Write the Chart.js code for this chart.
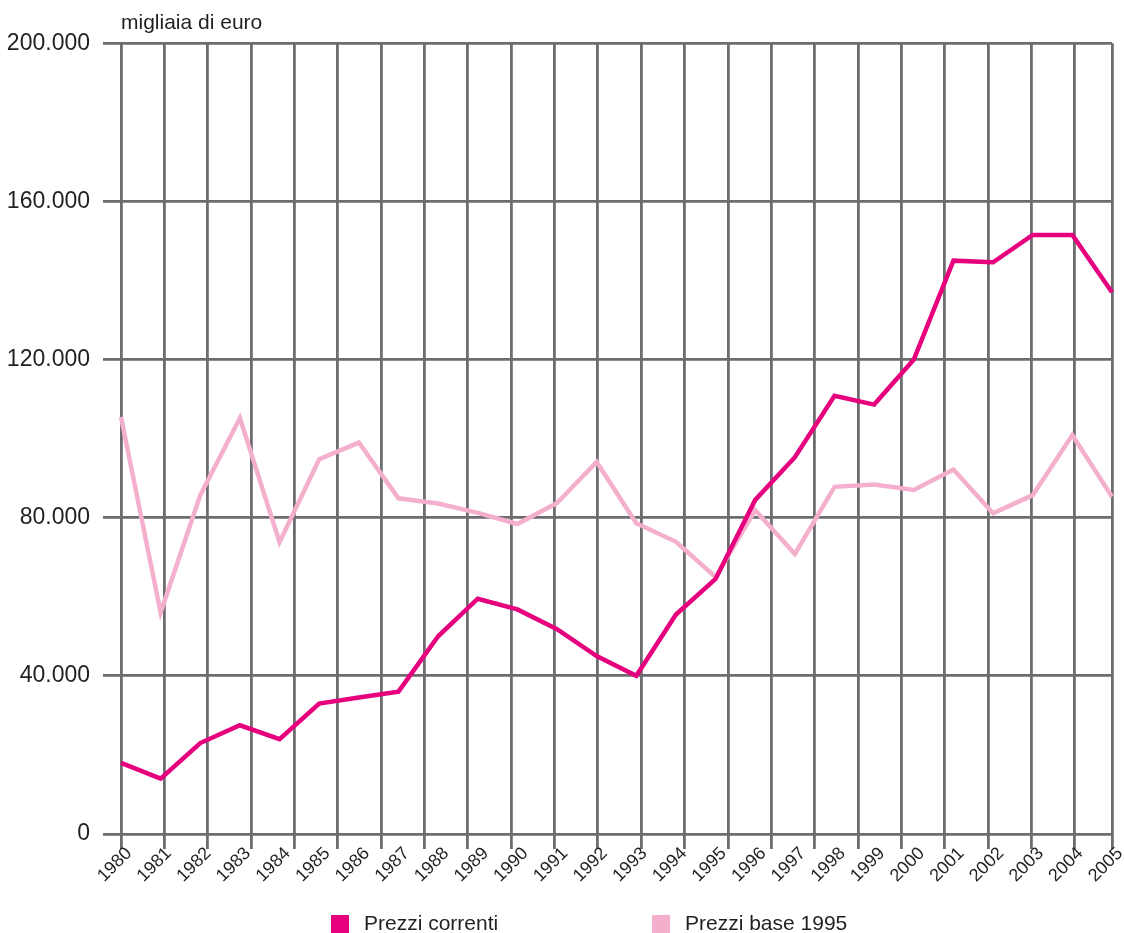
<!DOCTYPE html>
<html lang="it">
<head>
<meta charset="utf-8">
<title>Prezzi correnti e prezzi base 1995</title>
<script src="https://cdn.jsdelivr.net/npm/chart.js@4.4.0/dist/chart.umd.min.js"></script>
<style>
  html, body { margin: 0; padding: 0; background: #fff; }
</style>
</head>
<body>
<canvas id="chart" width="1124" height="933"></canvas>
<script>
// Dati (migliaia di euro)
const anni = ["1980", "1981", "1982", "1983", "1984", "1985", "1986", "1987", "1988", "1989",
  "1990", "1991", "1992", "1993", "1994", "1995", "1996", "1997", "1998", "1999",
  "2000", "2001", "2002", "2003", "2004", "2005"];
const prezziCorrenti = [18000, 14000, 23000, 27500, 24000, 33000, 34500, 36000, 50000, 59500,
  56800, 51800, 45000, 40000, 55500, 64500, 84500, 95300, 110800, 108600,
  120000, 145000, 144600, 151500, 151500, 137000];
const prezziBase1995 = [105500, 56000, 85700, 105200, 73800, 94800, 99000, 84900, 83600, 81200,
  78400, 83700, 94100, 78600, 73900, 65000, 81900, 70800, 87800, 88400,
  87000, 92200, 81100, 85700, 100900, 85300];
const tickY = [0, 40000, 80000, 120000, 160000, 200000];
const unita = "migliaia di euro";

const MAGENTA = "#e6007e";
const ROSA = "#f4afcd";
const GRIGIO = "#6d6d6f";
const TESTO = "#231f20";
const FONT = "'Liberation Sans', Arial, Helvetica, sans-serif";

// numero con il punto come separatore delle migliaia
const formatta = (v) => String(v).replace(/\B(?=(\d{3})+(?!\d))/g, ".");

// le linee verticali della griglia non coincidono con gli anni nell'originale
const celleGriglia = 22;
const fineGriglia = 22.86;

/**
 * Legenda disegnata sotto il grafico, due voci distanziate.
 */
const legendaInBasso = {
  id: "legendaInBasso",
  afterDraw(chart, args, opts) {
    const ctx = chart.ctx;
    ctx.save();
    ctx.font = opts.font;
    ctx.textBaseline = "middle";
    ctx.textAlign = "left";
    chart.data.datasets.forEach((ds, i) => {
      const x = opts.x[i];
      ctx.fillStyle = ds.borderColor;
      ctx.fillRect(x, opts.y - 9, 18, 18);
      ctx.fillStyle = TESTO;
      ctx.fillText(ds.label, x + 33, opts.y);
    });
    ctx.restore();
  },
};

const ctx = document.getElementById("chart").getContext("2d");
const chart = new Chart(ctx, {
  type: "line",
  data: {
    labels: anni,
    datasets: [
      {
        label: "Prezzi correnti",
        data: prezziCorrenti,
        xAxisID: "x",
        yAxisID: "y",
        borderColor: MAGENTA,
        backgroundColor: MAGENTA,
        borderWidth: 4.5,
        pointRadius: 0,
        tension: 0,
        fill: false,
        borderJoinStyle: "miter",
      },
      {
        label: "Prezzi base 1995",
        data: prezziBase1995,
        xAxisID: "x",
        yAxisID: "y",
        borderColor: ROSA,
        backgroundColor: ROSA,
        borderWidth: 4.5,
        pointRadius: 0,
        tension: 0,
        fill: false,
        borderJoinStyle: "miter",
      },
    ],
  },
  options: {
    responsive: false,
    animation: false,
    layout: { padding: { left: 0, right: 12, top: 0, bottom: 0 } },
    plugins: {
      legend: { display: false },
      tooltip: { enabled: false },
      title: {
        display: true,
        text: unita,
        align: "start",
        fullSize: false,
        color: TESTO,
        font: { family: FONT, size: 21, weight: "normal" },
        padding: { top: 11, bottom: 7 },
      },
      legendaInBasso: {
        x: [331, 652],
        y: 924,
        font: "21px " + FONT,
      },
    },
    scales: {
      x: {
        type: "category",
        position: "bottom",
        weight: 1,
        afterFit: (scale) => {
          scale.height = 99;
          scale.paddingLeft = 0;
          scale.paddingRight = 0;
        },
        grid: { display: false, drawTicks: false },
        border: { display: false },
        ticks: {
          autoSkip: false,
          maxRotation: 45,
          minRotation: 45,
          padding: 9,
          labelOffset: 8,
          color: TESTO,
          font: { family: FONT, size: 18 },
        },
      },
      xg: {
        type: "linear",
        position: "bottom",
        weight: 0,
        min: 0,
        max: fineGriglia,
        afterBuildTicks: (scale) => {
          const t = [];
          for (let k = 0; k <= celleGriglia; k++) t.push({ value: k });
          t.push({ value: fineGriglia });
          scale.ticks = t;
        },
        afterFit: (scale) => {
          scale.height = 0;
          scale.paddingLeft = 0;
          scale.paddingRight = 0;
        },
        ticks: { display: false },
        grid: {
          color: GRIGIO,
          lineWidth: 2.8,
          drawTicks: true,
          tickLength: 15,
        },
        border: { display: false },
      },
      y: {
        min: 0,
        max: 200000,
        afterBuildTicks: (scale) => {
          scale.ticks = tickY.map((v) => ({ value: v }));
        },
        afterFit: (scale) => {
          scale.width = 121;
        },
        grid: {
          color: GRIGIO,
          lineWidth: 2.8,
          drawTicks: true,
          tickLength: 18,
        },
        border: { display: false },
        ticks: {
          padding: 13,
          color: TESTO,
          font: { family: FONT, size: 23 },
          callback: (v) => formatta(v),
        },
      },
    },
  },
  plugins: [legendaInBasso],
});
</script>
</body>
</html>
